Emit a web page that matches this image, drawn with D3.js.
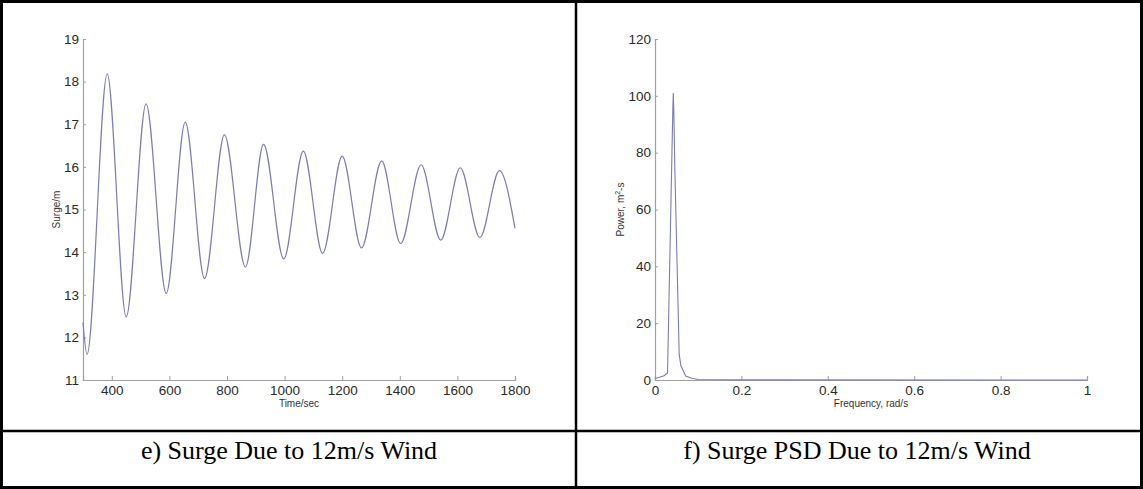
<!DOCTYPE html>
<html>
<head>
<meta charset="utf-8">
<script src="https://cdn.jsdelivr.net/npm/d3@7"></script>
<style>
  body { margin: 0; background: #fff; }
  svg { display: block; }
</style>
</head>
<body>
<div id="chart"></div>
<script>
// surge time history (extrema + ends)
const surgeTime = [300, 314, 384, 450, 519, 589, 655, 722, 791, 864, 927, 997, 1065, 1132, 1200, 1267, 1337, 1403, 1474, 1542, 1610, 1678, 1746, 1800]
const surgeValue = [12.35, 11.6, 18.18, 12.48, 17.48, 13.03, 17.05, 13.38, 16.75, 13.65, 16.53, 13.84, 16.37, 13.97, 16.25, 14.1, 16.14, 14.2, 16.05, 14.28, 15.98, 14.34, 15.91, 14.56]

// PSD
const psdFreq = [0, 0.0105, 0.021, 0.029, 0.0415, 0.0424, 0.0435, 0.046, 0.056, 0.06, 0.071, 0.085, 0.1, 0.2, 1]
const psdPower = [0.5, 1, 1.5, 2.5, 97, 101, 95, 74, 9, 5, 1.4, 0.6, 0.2, 0.05, 0]

const timeTicks = [400, 600, 800, 1000, 1200, 1400, 1600, 1800]
const surgeTicks = [11, 12, 13, 14, 15, 16, 17, 18, 19]
const freqTicks = [0, 0.2, 0.4, 0.6, 0.8, 1]
const powerTicks = [0, 20, 40, 60, 80, 100, 120]

const captions = ["e) Surge Due to 12m/s Wind", "f) Surge PSD Due to 12m/s Wind"]

const W = 1143, H = 489
const plotTop = 39, plotBottom = 380
const lineColor = "#7c7cb6"
const axisColor = "#a0a0a0"

const svg = d3.select("#chart").append("svg")
    .attr("width", W)
    .attr("height", H)

// table frame
const frame = svg.append("g").attr("stroke", "#000").attr("fill", "none")
frame.append("rect").attr("x", 1.5).attr("y", 1.5).attr("width", 1140).attr("height", 486).attr("stroke-width", 3)
frame.append("line").attr("x1", 576).attr("x2", 576).attr("y1", 0).attr("y2", 489).attr("stroke-width", 2.5)
frame.append("line").attr("x1", 0).attr("x2", W).attr("y1", 431).attr("y2", 431).attr("stroke-width", 2.5)

function styleAxis(g) {
    g.select(".domain").attr("stroke", axisColor).attr("stroke-width", 1.2)
    g.selectAll(".tick line").attr("stroke", axisColor)
    g.selectAll(".tick text")
        .attr("fill", "#2a2a2a")
        .attr("font-family", "Liberation Sans, Arial, sans-serif")
        .attr("font-size", "13.5px")
}

function panel(left, right, x, y, xTicks, yTicks, xFmt, yFmt) {
    const g = svg.append("g")
    g.append("g")
        .attr("transform", "translate(0," + plotBottom + ")")
        .call(d3.axisBottom(x).tickValues(xTicks).tickFormat(xFmt).tickSizeInner(-4).tickSizeOuter(-4).tickPadding(5))
        .call(styleAxis)
    g.append("g")
        .attr("transform", "translate(" + left + ",0)")
        .call(d3.axisLeft(y).tickValues(yTicks).tickFormat(yFmt).tickSizeInner(-3).tickSizeOuter(-3).tickPadding(4))
        .call(styleAxis)
    return g
}

// ---- left: surge vs time
const x1 = d3.scaleLinear().domain([300, 1800]).range([83, 515])
const y1 = d3.scaleLinear().domain([11, 19]).range([plotBottom, plotTop])
const g1 = panel(83, 515, x1, y1, timeTicks, surgeTicks, d3.format("d"), d3.format("d"))

const surgeLine = d3.line()
    .x((d, i) => x1(surgeTime[i]))
    .y(d => y1(d))
    .curve(d3.curveMonotoneX)
g1.append("path")
    .attr("d", surgeLine(surgeValue))
    .attr("fill", "none")
    .attr("stroke", lineColor)
    .attr("stroke-width", 1.2)

g1.append("text")
    .attr("x", (83 + 515) / 2).attr("y", 407)
    .attr("text-anchor", "middle")
    .attr("font-family", "Liberation Sans, Arial, sans-serif")
    .attr("font-size", "10px").attr("fill", "#333")
    .text("Time/sec")
g1.append("text")
    .attr("transform", "translate(60," + (plotTop + plotBottom) / 2 + ") rotate(-90)")
    .attr("text-anchor", "middle")
    .attr("font-family", "Liberation Sans, Arial, sans-serif")
    .attr("font-size", "10px").attr("fill", "#333")
    .text("Surge/m")

// ---- right: PSD
const x2 = d3.scaleLinear().domain([0, 1]).range([655, 1087])
const y2 = d3.scaleLinear().domain([0, 120]).range([plotBottom, plotTop])
const g2 = panel(655, 1087, x2, y2, freqTicks, powerTicks, d => d3.format("~g")(d), d3.format("d"))

const psdLine = d3.line()
    .x((d, i) => x2(psdFreq[i]))
    .y(d => y2(d))
g2.append("path")
    .attr("d", psdLine(psdPower))
    .attr("fill", "none")
    .attr("stroke", lineColor)
    .attr("stroke-width", 1.1)

g2.append("text")
    .attr("x", (655 + 1087) / 2).attr("y", 407)
    .attr("text-anchor", "middle")
    .attr("font-family", "Liberation Sans, Arial, sans-serif")
    .attr("font-size", "10px").attr("fill", "#333")
    .text("Frequency, rad/s")
const pl = g2.append("text")
    .attr("transform", "translate(624," + (plotTop + plotBottom) / 2 + ") rotate(-90)")
    .attr("text-anchor", "middle")
    .attr("font-family", "Liberation Sans, Arial, sans-serif")
    .attr("font-size", "10px").attr("fill", "#333")
pl.append("tspan").text("Power, m")
pl.append("tspan").attr("dy", -4).attr("font-size", "7px").text("2")
pl.append("tspan").attr("dy", 4).text("-s")

// captions
svg.selectAll("text.caption")
    .data(captions)
    .enter().append("text")
    .attr("class", "caption")
    .attr("x", (d, i) => i === 0 ? 289 : 857)
    .attr("y", 459)
    .attr("text-anchor", "middle")
    .attr("font-family", "Liberation Serif, Times New Roman, serif")
    .attr("font-size", "26px")
    .attr("fill", "#000")
    .text(d => d)
</script>
</body>
</html>
